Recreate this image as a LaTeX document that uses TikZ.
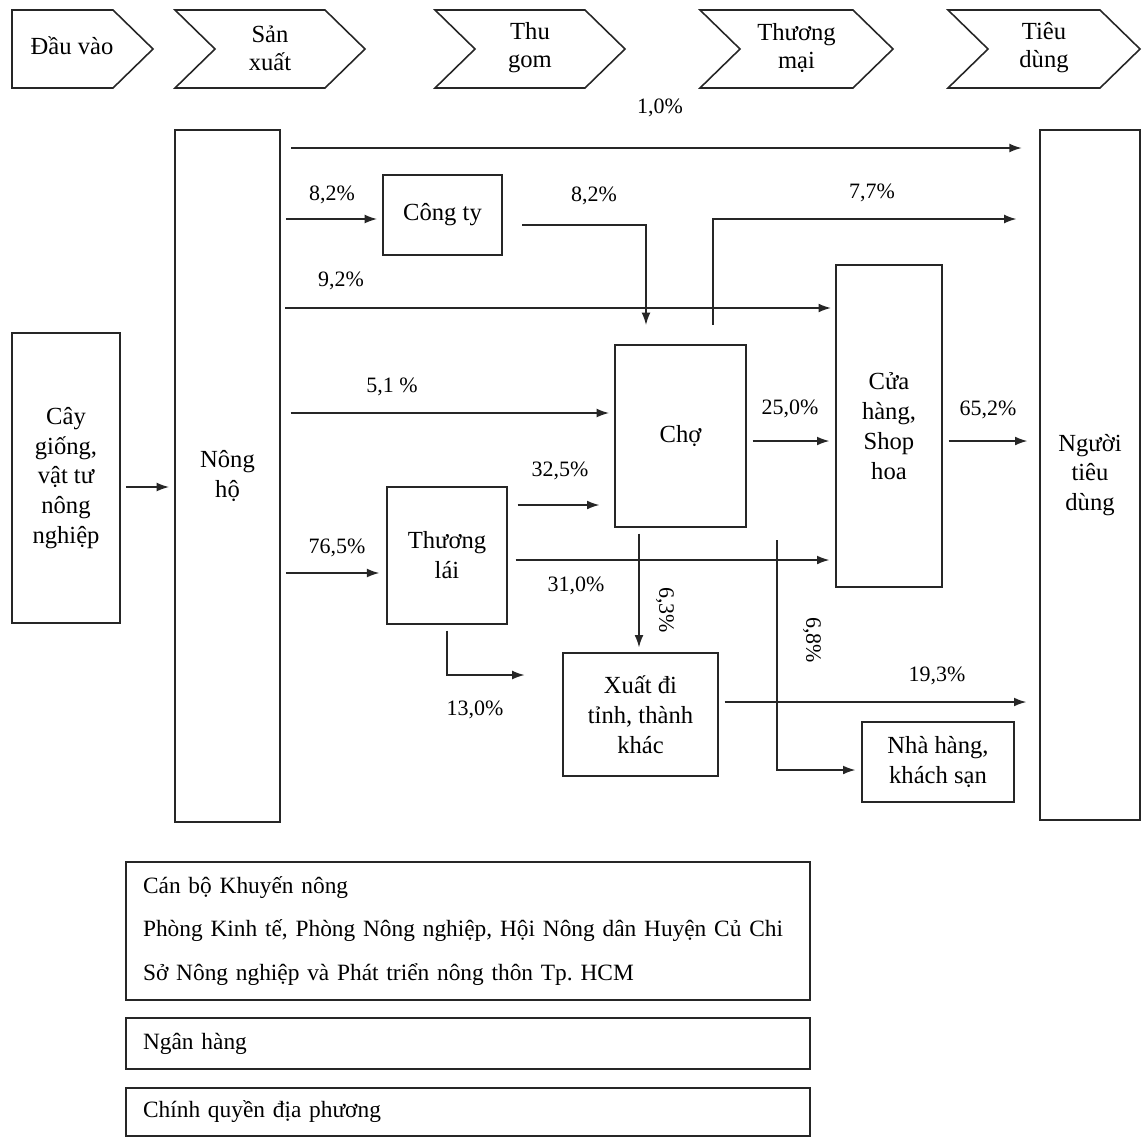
\documentclass[tikz,border=0pt]{standalone}
\usepackage{fontspec}
\setmainfont{Liberation Serif}
\usetikzlibrary{arrows.meta}

\tikzset{
  box/.style={draw=black!85, line width=0.8pt, align=center, inner sep=2pt, font=\fontsize{14}{17}\selectfont},
  flow/.style={draw=black!85, line width=0.8pt, -{Latex[length=7pt,width=5pt]}},
  pct/.style={font=\fontsize{12.5}{14}\selectfont},
  infobox/.style={draw=black!85, line width=0.8pt, text width=13.0cm, align=left, inner xsep=0.34cm, font=\fontsize{13.3}{25}\selectfont},
  stagebox/.style={draw=black!85, line width=0.9pt, line join=miter},
}

\begin{document}
\begin{tikzpicture}[x=0.02cm, y=-0.02cm]
  \useasboundingbox (0,0) rectangle (1147,1137);

  % stages
  \draw[stagebox] (12,10) -- (113,10) -- (153,49) -- (113,88) -- (12,88) -- cycle;
  \node[font=\fontsize{14}{17}\selectfont] (stage0) at (72,46) {Đầu vào};
  \foreach \l/\r/\txt [count=\i] in {175/365/{Sản\\xuất}, 435/625/{Thu\\gom}, 700/893/{Thương\\mại}, 948/1140/{Tiêu\\dùng}} {
    \draw[stagebox] (\l,10) -- (\r-40,10) -- (\r,49) -- (\r-40,88) -- (\l,88) -- (\l+40,49) -- cycle;
    \node[align=center, font=\fontsize{14}{16}\selectfont] (stage\i) at ({(\l+\r)/2},48) {\txt};
  }

  % actors
  \node[box, minimum width=2.16cm, minimum height=5.8cm] (cay) at (66,478) {Cây\\giống,\\vật tư\\nông\\nghiệp};
  \node[box, minimum width=2.1cm, minimum height=13.84cm] (nongho) at (227.5,476) {Nông\\hộ};
  \node[box, minimum width=2.38cm, minimum height=1.6cm] (congty) at (442.5,215) {Công ty};
  \node[box, minimum width=2.62cm, minimum height=3.64cm] (cho) at (680.5,436) {Chợ};
  \node[box, minimum width=2.12cm, minimum height=6.44cm] (cuahang) at (889,426) {Cửa\\hàng,\\Shop\\hoa};
  \node[box, minimum width=2.0cm, minimum height=13.8cm] (ntd) at (1090,475) {Người\\tiêu\\dùng};
  \node[box, minimum width=2.4cm, minimum height=2.74cm] (thuonglai) at (447,555.5) {Thương\\lái};
  \node[box, minimum width=3.1cm, minimum height=2.46cm] (xuat) at (640.5,714.5) {Xuất đi\\tỉnh, thành\\khác};
  \node[box, minimum width=3.04cm, minimum height=1.6cm] (nhahang) at (938,762) {Nhà hàng,\\khách sạn};

  % support
  \node[infobox, minimum height=2.76cm] (khuyennong) at (468,931) {Cán bộ Khuyến nông\\Phòng Kinh tế, Phòng Nông nghiệp, Hội Nông dân Huyện Củ Chi\\Sở Nông nghiệp và Phát triển nông thôn Tp.\ HCM};
  \node[infobox, minimum height=1.02cm] (nganhang) at (468,1043.5) {Ngân hàng};
  \node[infobox, minimum height=0.96cm] (chinhquyen) at (468,1112) {Chính quyền địa phương};

  % flows
  \draw[flow, shorten <=3pt, shorten >=3pt] (cay.east |- 0,487) -- (nongho.west |- 0,487);
  \draw[flow, shorten <=6pt, shorten >=10pt] (nongho.east |- 0,148) -- (ntd.west |- 0,148);
  \draw[flow, shorten <=3pt, shorten >=3pt] (nongho.east |- 0,219) -- (congty.west |- 0,219);
  \draw[flow, shorten <=11pt, shorten >=11pt] (congty.east |- 0,225) -| (646,0 |- cho.north);
  \draw[flow, shorten <=11pt, shorten >=13pt] (713,0 |- cho.north) |- (ntd.west |- 0,219);
  \draw[flow, shorten <=2.5pt, shorten >=2.5pt] (nongho.east |- 0,308) -- (cuahang.west |- 0,308);
  \draw[flow, shorten <=5.7pt, shorten >=3pt] (nongho.east |- 0,413) -- (cho.west |- 0,413);
  \draw[flow, shorten <=3.4pt, shorten >=3.4pt] (cho.east |- 0,441) -- (cuahang.west |- 0,441);
  \draw[flow, shorten <=3.4pt, shorten >=6.8pt] (cuahang.east |- 0,441) -- (ntd.west |- 0,441);
  \draw[flow, shorten <=5.7pt, shorten >=8.5pt] (thuonglai.east |- 0,505) -- (cho.west |- 0,505);
  \draw[flow, shorten <=3pt, shorten >=4pt] (nongho.east |- 0,573) -- (thuonglai.west |- 0,573);
  \draw[flow, shorten <=4.5pt, shorten >=3.4pt] (thuonglai.east |- 0,560) -- (cuahang.west |- 0,560);
  \draw[flow, shorten <=3.4pt, shorten >=2.8pt] (cho.south -| 639,0) -- (xuat.north -| 639,0);
  \coordinate (c68) at (777,540);
  \draw[flow, shorten >=3.4pt] (c68) |- (nhahang.west |- 0,770);
  \draw[flow, shorten <=3.4pt, shorten >=21.5pt] (thuonglai.south -| 447,0) |- (xuat.west |- 0,675);
  \draw[flow, shorten <=3.4pt, shorten >=7.4pt] (xuat.east |- 0,702) -- (ntd.west |- 0,702);

  % shares
  \foreach \pos/\txt [count=\i] in {(660,108)/{1,0\%}, (332,195)/{8,2\%}, (594,196)/{8,2\%}, (872,193)/{7,7\%},
      (341,281)/{9,2\%}, (392,387)/{5,1 \%}, (790,409)/{25,0\%}, (988,410)/{65,2\%}, (560,471)/{32,5\%},
      (337,548)/{76,5\%}, (576,586)/{31,0\%}, (475,710)/{13,0\%}, (937,676)/{19,3\%}}
    \node[pct] (share\i) at \pos {\txt};
  \node[pct, rotate=-90] (share63) at (665,610) {6,3\%};
  \node[pct, rotate=-90] (share68) at (812,640) {6,8\%};
\end{tikzpicture}
\end{document}
